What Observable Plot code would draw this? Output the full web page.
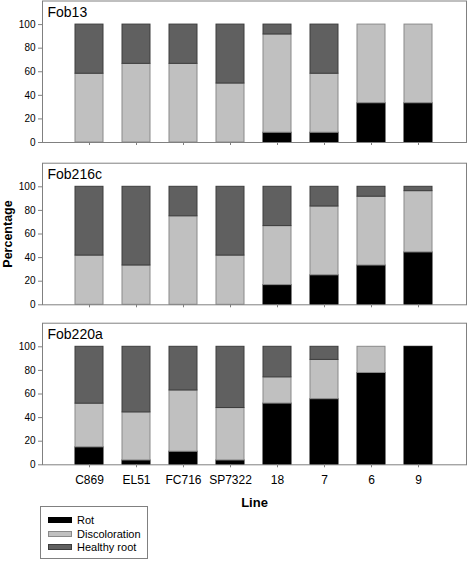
<!DOCTYPE html>
<html>
<head>
<meta charset="utf-8">
<script src="https://cdn.jsdelivr.net/npm/d3@7"></script>
<script src="https://cdn.jsdelivr.net/npm/@observablehq/plot@0.6"></script>
<style>
  body { margin: 0; background: #fff; }
  #root { position: relative; width: 468px; height: 562px; font-family: "Liberation Sans", Arial, sans-serif; }
  #root svg { display: block; }
  .legend { position: absolute; left: 40px; top: 506px; width: 108px; height: 53px; border: 1px solid #808080; box-sizing: border-box; background: #fff; }
  .legend .row { position: absolute; left: 7px; height: 12px; display: flex; align-items: center; font-size: 11px; color: #000; }
  .legend .sw { width: 24px; height: 6px; box-sizing: border-box; border: 1px solid; margin-right: 5px; }
</style>
</head>
<body>
<div id="root"></div>
<script>
// ---- data ----
const lines = ["C869", "EL51", "FC716", "SP7322", "18", "7", "6", "9"];
const series = ["Rot", "Discoloration", "Healthy root"];
const panels = ["Fob13", "Fob216c", "Fob220a"];
// values per panel, per line (percentages)
const fob13Rot     = [0, 0, 0, 0, 8.3, 8.3, 33.3, 33.3];
const fob13Disc    = [58.3, 66.7, 66.7, 50, 83.3, 50, 66.7, 66.7];
const fob13Healthy = [41.7, 33.3, 33.3, 50, 8.4, 41.7, 0, 0];
const fob216cRot     = [0, 0, 0, 0, 16.7, 25, 33.3, 44.4];
const fob216cDisc    = [41.7, 33.3, 75, 41.7, 50, 58.3, 58.3, 51.9];
const fob216cHealthy = [58.3, 66.7, 25, 58.3, 33.3, 16.7, 8.4, 3.7];
const fob220aRot     = [14.8, 3.7, 11.1, 3.7, 51.9, 55.6, 77.8, 100];
const fob220aDisc    = [37.0, 40.7, 51.9, 44.4, 22.2, 33.3, 22.2, 0];
const fob220aHealthy = [48.2, 55.6, 37.0, 51.9, 25.9, 11.1, 0, 0];
const yTicks = [0, 20, 40, 60, 80, 100];
const seriesFill = ["#000000", "#c0c0c0", "#606060"];
const seriesStroke = ["#000000", "#8a8a8a", "#3c3c3c"];

const panelData = [
  [fob13Rot, fob13Disc, fob13Healthy],
  [fob216cRot, fob216cDisc, fob216cHealthy],
  [fob220aRot, fob220aDisc, fob220aHealthy]
];

function toRows(arrs) {
  const rows = [];
  lines.forEach((ln, i) => {
    series.forEach((s, k) => rows.push({line: ln, type: s, k, value: arrs[k][i]}));
  });
  return rows;
}

const root = document.getElementById("root");
const font = '"Liberation Sans", Arial, sans-serif';
const gray = "#808080";

const layouts = [
  {height: 160, marginTop: 0.5, marginBottom: 18},
  {height: 160, marginTop: 2.7, marginBottom: 15.7},
  {height: 186, marginTop: 2.7, marginBottom: 41.7}
];

panels.forEach((name, p) => {
  const L = layouts[p];
  const rows = toRows(panelData[p]);
  const last = p === panels.length - 1;
  const marks = [
    Plot.barY(rows, {
      x: "line", y: "value", z: "type", order: series,
      fill: d => seriesFill[d.k], stroke: d => seriesStroke[d.k], strokeWidth: 1
    }),
    Plot.frame({stroke: gray}),
    Plot.axisY({ticks: yTicks, tickSize: 4, tickPadding: 3, fontSize: 10, stroke: gray, fill: "#000", label: null}),
    Plot.axisX({tickSize: 3, tickPadding: 7.5, fontSize: 12, stroke: gray, fill: "#000", label: null,
      tickFormat: last ? (d => d) : (() => "")}),
    Plot.text([name], {frameAnchor: "top-left", dx: 5, dy: 6, lineAnchor: "top", fontSize: 14, fill: "#000", text: d => d})
  ];
  if (p === 1) {
    marks.push(Plot.text(["Percentage"], {frameAnchor: "left", dx: -35, rotate: -90, textAnchor: "middle", lineAnchor: "middle", fontSize: 12.5, fontWeight: "bold", fill: "#000", text: d => d}));
  }
  if (last) {
    marks.push(Plot.text(["Line"], {frameAnchor: "bottom", dy: 38.5, lineAnchor: "middle", fontSize: 13, fontWeight: "bold", fill: "#000", text: d => d}));
  }
  const chart = Plot.plot({
    width: 468,
    height: L.height,
    marginTop: L.marginTop,
    marginBottom: L.marginBottom,
    marginLeft: 42,
    marginRight: 2,
    style: {fontFamily: font, background: "#fff", overflow: "visible"},
    x: {type: "band", domain: lines, paddingInner: 0.404, paddingOuter: 0.702, axis: null},
    y: {domain: [0, 120], axis: null},
    color: {type: "identity"},
    marks
  });
  root.appendChild(chart);
});

// legend
const legend = document.createElement("div");
legend.className = "legend";
series.forEach((s, k) => {
  const row = document.createElement("div");
  row.className = "row";
  row.style.top = (7 + k * 13.5) + "px";
  const sw = document.createElement("div");
  sw.className = "sw";
  sw.style.background = seriesFill[k];
  sw.style.borderColor = seriesStroke[k];
  const t = document.createElement("span");
  t.textContent = s;
  row.appendChild(sw);
  row.appendChild(t);
  legend.appendChild(row);
});
root.appendChild(legend);
</script>
</body>
</html>
